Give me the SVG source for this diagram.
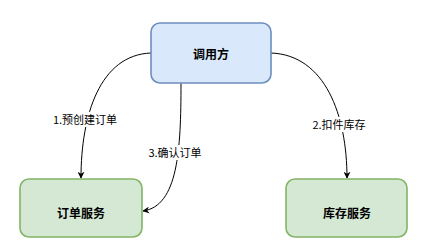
<svg xmlns="http://www.w3.org/2000/svg" width="423" height="252" viewBox="0 0 423 252">
<style>
.blue{fill:#dae8fc;stroke:#6c8ebf;stroke-width:1.6}
.green{fill:#d5e8d4;stroke:#82b366;stroke-width:1.6}
.nt{font-family:"Noto Sans CJK SC","Liberation Sans",sans-serif;font-size:12px;font-weight:bold;fill:#000;text-anchor:middle;dominant-baseline:central}
.lt{font-family:"Noto Sans CJK SC","Liberation Sans",sans-serif;font-size:11px;fill:#000;text-anchor:middle;dominant-baseline:central}
.edge{fill:none;stroke:#000;stroke-width:1}
.lbg{fill:#fff}
</style>
<defs>
<marker id="arr" viewBox="0 0 10 10" refX="9" refY="5" markerWidth="7" markerHeight="7" orient="auto" markerUnits="userSpaceOnUse">
<path d="M0,0 L10,5 L0,10 L3,5 Z" fill="#000"/>
</marker>
</defs>
<rect width="423" height="252" fill="#fff"/>
<g id="connectors">
<path class="edge" d="M151,53 C100,55 81,115 81,178" marker-end="url(#arr)"/>
<path class="edge" d="M271,53 C325,55 347,115 347,178" marker-end="url(#arr)"/>
<path class="edge" d="M181,83 C181,150 178,206 143,211" marker-end="url(#arr)"/>
<rect class="lbg" x="51" y="112" width="68" height="15"/>
<text class="lt" x="85" y="119">1.预创建订单</text>
<rect class="lbg" x="309" y="117" width="60" height="15"/>
<text class="lt" x="339" y="124">2.扣件库存</text>
<rect class="lbg" x="146" y="145" width="58" height="15"/>
<text class="lt" x="175" y="152">3.确认订单</text>
</g>
<g id="caller">
<rect class="blue" x="151" y="23" width="120" height="60" rx="9"/>
<text class="nt" x="211" y="53">调用方</text>
</g>
<g id="order-service">
<rect class="green" x="20" y="179" width="122" height="58" rx="9"/>
<text class="nt" x="81" y="212">订单服务</text>
</g>
<g id="stock-service">
<rect class="green" x="286" y="179" width="121" height="58" rx="9"/>
<text class="nt" x="347" y="212">库存服务</text>
</g>
</svg>
